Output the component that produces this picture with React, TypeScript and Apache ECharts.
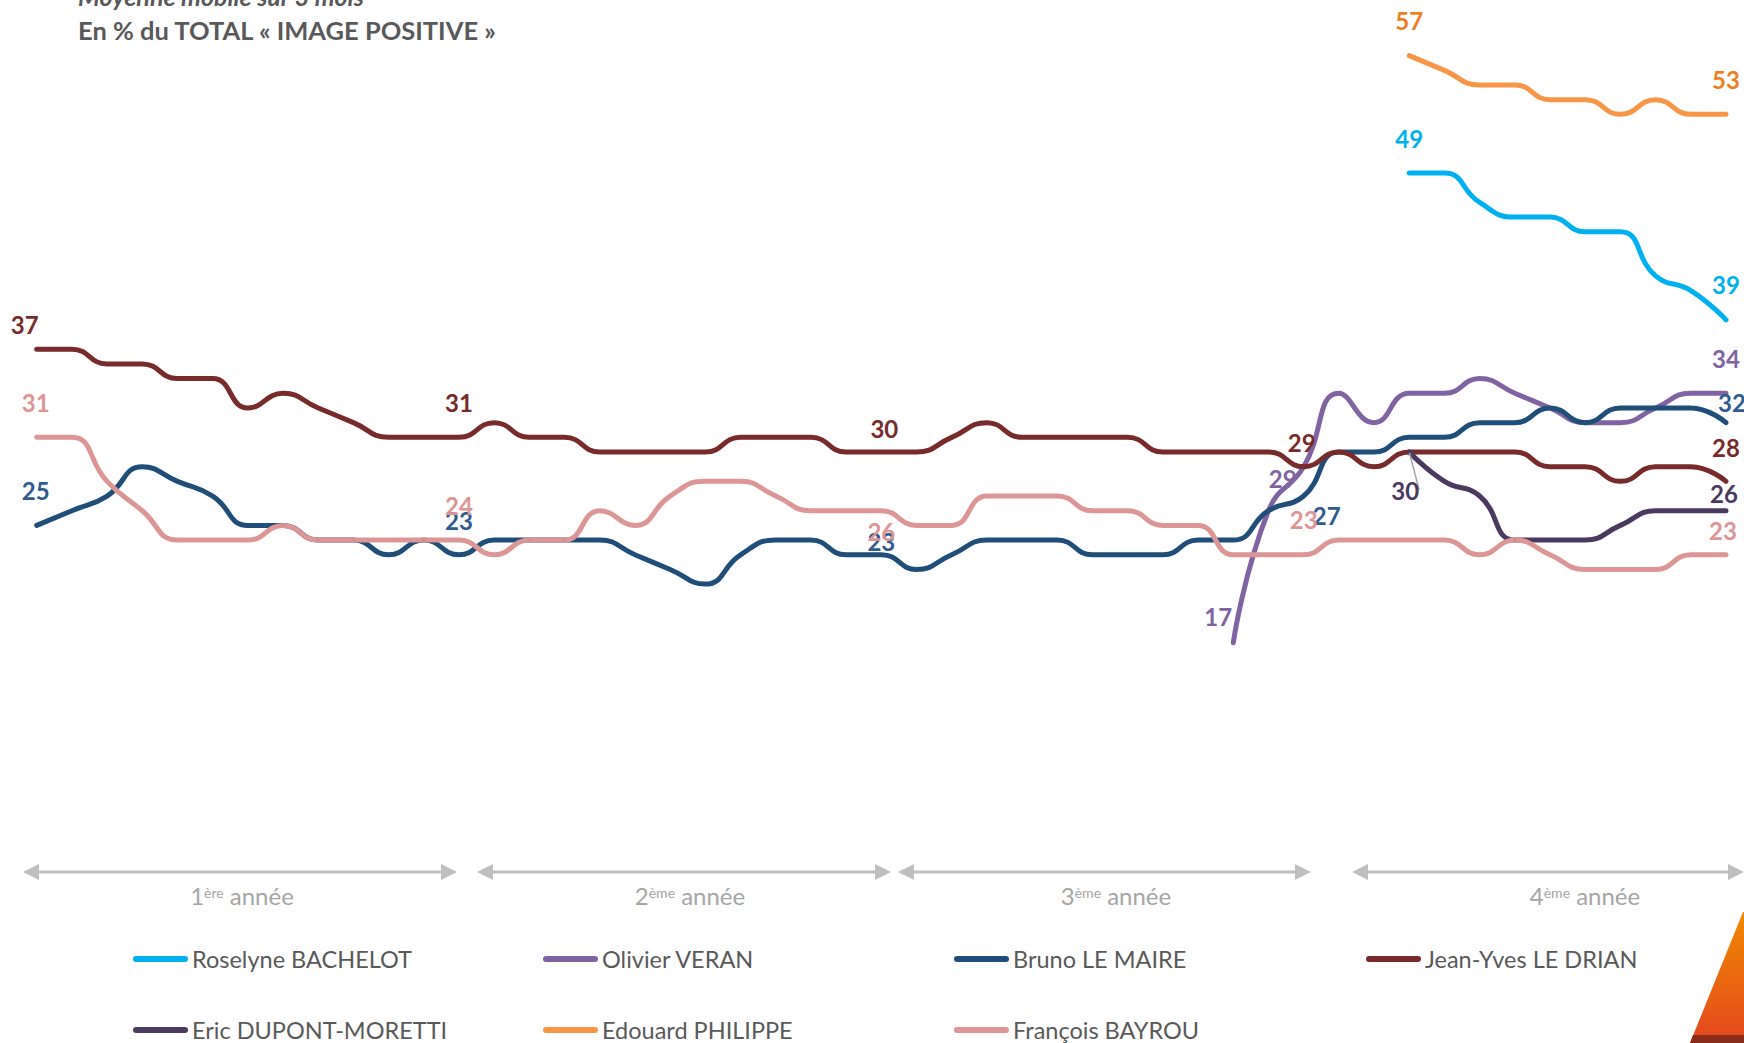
import React, { useEffect, useRef } from "react";
import * as echarts from "echarts";

// ---- Data (monthly, 3-month moving average, % "image positive") ----
const months = [
  "M1","M2","M3","M4","M5","M6","M7","M8","M9","M10","M11","M12","M13",
  "M14","M15","M16","M17","M18","M19","M20","M21","M22","M23","M24","M25",
  "M26","M27","M28","M29","M30","M31","M32","M33","M34","M35","M36","M37",
  "M38","M39","M40","M41","M42","M43","M44","M45","M46","M47","M48","M49",
];

const yearNumbers = ["1", "2", "3", "4"];
const yearSuffixes = ["ère", "ème", "ème", "ème"];

const bachelotStart = 39;
const bachelot = [49, 49, 47, 46, 46, 45, 45, 42, 41, 39];

const veranStart = 34;
const veran = [17, 26, 29, 34, 32, 34, 34, 35, 34, 33, 32, 32, 33, 34, 34];

const leMaireStart = 0;
const leMaire = [
  25, 26, 27, 29, 28, 27, 25, 25, 24, 24, 23, 24, 23, 24, 24, 24, 24, 23, 22, 21,
  23, 24, 24, 23, 23, 22, 23, 24, 24, 24, 23, 23, 23, 24, 24, 26, 27, 30, 30, 31,
  31, 32, 32, 33, 32, 33, 33, 33, 32,
];

const leDrianStart = 0;
const leDrian = [
  37, 37, 36, 36, 35, 35, 33, 34, 33, 32, 31, 31, 31, 32, 31, 31, 30, 30, 30, 30,
  31, 31, 31, 30, 30, 30, 31, 32, 31, 31, 31, 31, 30, 30, 30, 30, 29, 30, 29, 30,
  30, 30, 30, 29, 29, 28, 29, 29, 28,
];

const dupontStart = 39;
const dupont = [30, 28, 27, 24, 24, 24, 25, 26, 26, 26];

const philippeStart = 39;
const philippe = [57, 56, 55, 55, 54, 54, 53, 54, 53, 53];

const bayrouStart = 0;
const bayrou = [
  31, 31, 28, 26, 24, 24, 24, 25, 24, 24, 24, 24, 24, 23, 24, 24, 26, 25, 27, 28,
  28, 27, 26, 26, 26, 25, 25, 27, 27, 27, 26, 26, 25, 25, 23, 23, 23, 24, 24, 24,
  24, 23, 24, 23, 22, 22, 22, 23, 23,
];

// ---- Presentation config ----
type Spot = [number, number, number]; // [month index, dx, dy]
const SERIES: {
  name: string;
  color: string;
  labelColor: string;
  start: number;
  values: number[];
  spots: Spot[];
  leader?: number;
}[] = [
  { name: "Roselyne BACHELOT", color: "#00B0F0", labelColor: "#00B0F0", start: bachelotStart, values: bachelot, spots: [[39, 0, -35], [48, 0, -35]] },
  { name: "Olivier VERAN", color: "#8064A2", labelColor: "#8064A2", start: veranStart, values: veran, spots: [[34, -15, -26], [36, -21, 12], [48, 0, -35]] },
  { name: "Bruno LE MAIRE", color: "#1F4E79", labelColor: "#2F5B8E", start: leMaireStart, values: leMaire, spots: [[0, -1, -35], [12, 0, -34], [24, 0, -13], [36, 23, 19], [48, 6, -20]] },
  { name: "Jean-Yves LE DRIAN", color: "#772B2B", labelColor: "#772B2B", start: leDrianStart, values: leDrian, spots: [[0, -12, -25], [12, 0, -35], [24, 3, -24], [36, -2, -24], [48, 0, -34]] },
  { name: "Eric DUPONT-MORETTI", color: "#4A3A60", labelColor: "#4A3A60", start: dupontStart, values: dupont, spots: [[39, -4, 38], [48, -2, -17]], leader: 39 },
  { name: "Edouard PHILIPPE", color: "#F79646", labelColor: "#F07F1E", start: philippeStart, values: philippe, spots: [[39, 0, -35], [48, 0, -35]] },
  { name: "François BAYROU", color: "#DC9695", labelColor: "#DC9695", start: bayrouStart, values: bayrou, spots: [[0, -1, -35], [12, 0, -35], [24, 0, 21], [36, 0, -35], [48, -3, -24]] },
];

const LEGEND_POS: [number, number][] = [
  [133, 945], [543, 945], [954, 945], [1366, 945],
  [133, 1016], [543, 1016], [954, 1016],
];

const YEAR_ARROWS: [number, number][] = [[23, 457], [477, 891], [898, 1311], [1352, 1744]];
const YEAR_CENTERS = [242, 690, 1116, 1585];
const ARROW_Y = 872;
const GREY = "#BFBFBF";

function buildData(s: (typeof SERIES)[number]) {
  return months.map((_, i) => {
    const k = i - s.start;
    if (k < 0 || k >= s.values.length) return null;
    const v = s.values[k];
    const spot = s.spots.find((p) => p[0] === i);
    if (!spot) return v;
    const item: any = {
      value: v,
      label: {
        show: true,
        position: "inside",
        offset: [spot[1], spot[2]],
        color: s.labelColor,
        fontFamily: "Lato",
        fontWeight: "bold",
        fontSize: 24,
        formatter: "{c}",
      },
    };
    if (s.leader === i) {
      item.labelLine = { show: true, lineStyle: { color: "#A6A6A6", width: 1.5 } };
    }
    return item;
  });
}

function arrowGraphics() {
  const els: any[] = [];
  YEAR_ARROWS.forEach(([x1, x2]) => {
    els.push({
      type: "line",
      shape: { x1: x1 + 12, y1: ARROW_Y, x2: x2 - 12, y2: ARROW_Y },
      style: { stroke: GREY, lineWidth: 3 },
      silent: true,
    });
    els.push({
      type: "polygon",
      shape: { points: [[x1, ARROW_Y], [x1 + 16, ARROW_Y - 8], [x1 + 16, ARROW_Y + 8]] },
      style: { fill: GREY },
      silent: true,
    });
    els.push({
      type: "polygon",
      shape: { points: [[x2, ARROW_Y], [x2 - 16, ARROW_Y - 8], [x2 - 16, ARROW_Y + 8]] },
      style: { fill: GREY },
      silent: true,
    });
  });
  yearNumbers.forEach((n, i) => {
    els.push({
      type: "text",
      x: YEAR_CENTERS[i],
      y: 895,
      silent: true,
      style: {
        text: `{a|${n}}{b|${yearSuffixes[i]}}{a| année}`,
        align: "center",
        verticalAlign: "middle",
        textAlign: "center",
        textVerticalAlign: "middle",
        rich: {
          a: { fontFamily: "Lato", fontSize: 24, color: "#A6A6A6", fill: "#A6A6A6", lineHeight: 28, verticalAlign: "middle" },
          b: { fontFamily: "Lato", fontSize: 14, color: "#A6A6A6", fill: "#A6A6A6", lineHeight: 14, verticalAlign: "middle", padding: [0, 0, 5, 0] },
        },
      },
    });
  });
  return els;
}

export default function App() {
  const ref = useRef<HTMLDivElement>(null);
  useEffect(() => {
    if (!ref.current) return;
    const chart = echarts.init(ref.current, null, { renderer: "svg" });
    const pill = "path://M3,0H52A3,3,0,0,1,52,6H3A3,3,0,0,1,3,0Z";
    const option: any = {
      animation: false,
      backgroundColor: "#FFFFFF",
      grid: { left: 36.7, right: 18, top: 11.6, bottom: 297.4, containLabel: false },
      xAxis: {
        type: "category",
        data: months,
        boundaryGap: false,
        show: false,
      },
      yAxis: { type: "value", min: 10, max: 60, show: false },
      legend: SERIES.map((s, i) => ({
        data: [s.name],
        left: LEGEND_POS[i][0],
        top: LEGEND_POS[i][1],
        orient: "horizontal",
        padding: 0,
        icon: pill,
        itemWidth: 55,
        itemHeight: 6,
        itemGap: 4,
        selectedMode: false,
        textStyle: { fontFamily: "Lato", fontSize: 23.5, color: "#595959", lineHeight: 28, padding: [0, 0, 0, -1] },
      })),
      series: SERIES.map((s) => ({
        name: s.name,
        type: "line",
        color: s.color,
        data: buildData(s),
        smooth: 0.5,
        connectNulls: false,
        symbol: "circle",
        symbolSize: 1,
        showSymbol: true,
        showAllSymbol: true,
        lineStyle: { width: 5, color: s.color, cap: "round", join: "round" },
        itemStyle: { color: s.color },
        label: { show: false },
        emphasis: { disabled: true },
        clip: false,
      })),
      graphic: [
        {
          type: "text",
          x: 78,
          y: -4,
          silent: true,
          style: {
            text: "Moyenne mobile sur 3 mois",
            font: "italic bold 25px Lato",
            fill: "#595959",
            verticalAlign: "middle",
            textVerticalAlign: "middle",
          },
        },
        {
          type: "text",
          x: 78,
          y: 30,
          silent: true,
          style: {
            text: "En % du TOTAL « IMAGE POSITIVE »",
            font: "bold 25.5px Lato",
            fill: "#595959",
            verticalAlign: "middle",
            textVerticalAlign: "middle",
          },
        },
        ...arrowGraphics(),
        {
          type: "polygon",
          silent: true,
          shape: { points: [[1743, 912], [1744, 912], [1744, 1043], [1690, 1043]] },
          style: {
            fill: new echarts.graphic.LinearGradient(0, 0, 0, 1, [
              { offset: 0, color: "#F08A00" },
              { offset: 1, color: "#E4461E" },
            ]),
          },
        },
        {
          type: "polygon",
          silent: true,
          shape: { points: [[1693, 1035], [1744, 1035], [1744, 1043], [1690, 1043]] },
          style: { fill: "#8A2C1B" },
        },
      ],
    };
    chart.setOption(option);
    return () => chart.dispose();
  }, []);
  return (
    <div
      ref={ref}
      style={{ position: "absolute", left: 0, top: 0, width: 1744, height: 1043, background: "#fff" }}
    />
  );
}
